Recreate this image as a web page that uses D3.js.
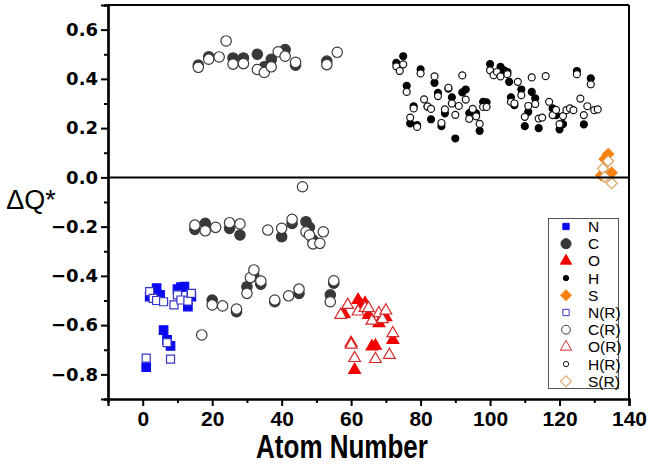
<!DOCTYPE html>
<html>
<head>
<meta charset="utf-8">
<script src="https://cdn.jsdelivr.net/npm/d3@7"></script>
<style>
  body { margin: 0; background: #fff; }
  svg { display: block; }
</style>
</head>
<body>
<div id="chart"></div>
<script>
// [atom number, dQ*]
var nFilled = [[1,-0.771],[2,-0.484],[4,-0.45],[5,-0.477],[6,-0.62],[7,-0.66],[8,-0.684],[10,-0.454],[11,-0.446],[12,-0.444],[13,-0.525],[14,-0.484]];
var cFilled = [[16,0.456],[19,0.49],[26,0.485],[29,0.485],[33,0.5],[35,0.449],[37,0.479],[41,0.519],[44,0.456],[53,0.472],
  [15,-0.211],[18,-0.187],[25,-0.207],[28,-0.234],[40,-0.241],[43,-0.187],[47,-0.18],[48,-0.203],[49,-0.254],
  [20,-0.498],[27,-0.545],[30,-0.444],[32,-0.399],[34,-0.434],[38,-0.505],[45,-0.471],[54,-0.477],[55,-0.43]];
var oFilled = [[58,-0.555],[60,-0.673],[61,-0.782],[62,-0.498],[63,-0.52],[64,-0.511],[65,-0.559],[66,-0.687],[67,-0.684],[68,-0.592],[70,-0.568],[72,-0.66]];
var hFilled = [[73,0.465],[75,0.492],[76,0.372],[77,0.219],[78,0.289],[79,0.212],[80,0.439],[82,0.287],[83,0.236],[84,0.384],[85,0.343],[86,0.208],[87,0.26],[88,0.36],[89,0.325],[90,0.158],
  [92,0.345],[93,0.357],[94,0.261],[96,0.26],[97,0.189],[98,0.307],[99,0.305],[100,0.46],[103,0.449],[104,0.435],[105,0.428],[105.5,0.388],[106,0.325],[107,0.293],
  [109,0.357],[110,0.208],[111,0.266],[112,0.347],[113,0.321],[114,0.2],[118,0.28],[119,0.253],[120,0.195],[121,0.216],[125,0.432],[127,0.215],[129,0.402]];
var sFilled = [[132,0.009],[133,0.075],[134,0.095],[135,0.019]];

var nOpen = [[1,-0.734],[2,-0.464],[3,-0.491],[4,-0.5],[6,-0.505],[7,-0.671],[8,-0.738],[9,-0.518],[10,-0.477],[11,-0.498],[13,-0.502],[14,-0.471]];
var cOpen = [[16,0.447],[19,0.48],[22,0.489],[24,0.554],[26,0.46],[29,0.462],[33,0.438],[35,0.426],[37,0.449],[39,0.51],[41,0.492],[44,0.467],[53,0.458],[56,0.508],
  [15,-0.194],[18,-0.217],[21,-0.203],[25,-0.184],[28,-0.189],[36,-0.214],[40,-0.207],[43,-0.17],[46,-0.038],[47,-0.221],[48,-0.234],[49,-0.27],[51,-0.268],[52,-0.221],
  [17,-0.64],[20,-0.518],[23,-0.522],[27,-0.535],[30,-0.471],[31,-0.407],[32,-0.376],[34,-0.421],[38,-0.498],[42,-0.481],[45,-0.454],[54,-0.505],[55,-0.42]];
var oOpen = [[57,-0.559],[59,-0.518],[60,-0.68],[61,-0.734],[62,-0.545],[64,-0.53],[65,-0.531],[66,-0.582],[67,-0.738],[68,-0.552],[69,-0.576],[70,-0.541],[71,-0.721],[72,-0.633]];
var hOpen = [[73,0.451],[74,0.432],[75,0.459],[76,0.347],[77,0.243],[78,0.28],[79,0.205],[80,0.422],[81,0.317],[82,0.288],[83,0.278],[84,0.41],[85,0.33],[86,0.221],[87,0.276],[88,0.364],
  [89,0.3],[90,0.254],[91,0.29],[92,0.414],[93,0.316],[94,0.238],[95,0.278],[96,0.248],[97,0.217],[98,0.286],[99,0.286],[100,0.435],[101,0.415],[102,0.428],[103,0.41],[105,0.419],
  [106,0.307],[107,0.3],[108,0.388],[109,0.334],[110,0.246],[111,0.29],[112,0.406],[113,0.298],[114,0.239],[115,0.243],[116,0.411],[117,0.307],[118,0.253],[119,0.274],
  [120,0.216],[121,0.249],[122,0.273],[123,0.28],[124,0.273],[125,0.419],[126,0.32],[127,0.253],[128,0.289],[129,0.378],[130,0.273],[131,0.276]];
var sOpen = [[132.5,0.036],[133,0.002],[134,0.066],[135,-0.024]];

var xTicks = [0, 20, 40, 60, 80, 100, 120, 140];
var yTicks = [-0.8, -0.6, -0.4, -0.2, 0.0, 0.2, 0.4, 0.6];

var width = 653, height = 468;
var margin = { top: 5, right: 24, bottom: 69, left: 108 };

var svg = d3.select("#chart").append("svg")
  .attr("width", width)
  .attr("height", height);

var x = d3.scaleLinear().domain([-10, 140]).range([margin.left, width - margin.right]);
var y = d3.scaleLinear().domain([-0.9, 0.7]).range([height - margin.bottom, margin.top]);

// series definitions: symbol type, size, fill, stroke
var series = [
  { name: "N", data: nFilled, type: d3.symbolSquare, size: 72, fill: "#0a0af0", stroke: "#0a0af0", rot: 0 },
  { name: "C", data: cFilled, type: d3.symbolCircle, size: 85, fill: "#383838", stroke: "#383838", rot: 0 },
  { name: "O", data: oFilled, type: d3.symbolTriangle, size: 60, fill: "#f20000", stroke: "#f20000", rot: 0 },
  { name: "H", data: hFilled, type: d3.symbolCircle, size: 38, fill: "#000", stroke: "#000", rot: 0 },
  { name: "S", data: sFilled, type: d3.symbolSquare, size: 60, fill: "#f5820f", stroke: "#f5820f", rot: 45 },
  { name: "N(R)", data: nOpen, type: d3.symbolSquare, size: 64, fill: "#fff", stroke: "#3434c8", rot: 0 },
  { name: "C(R)", data: cOpen, type: d3.symbolCircle, size: 85, fill: "#fff", stroke: "#3a3a3a", rot: 0 },
  { name: "O(R)", data: oOpen, type: d3.symbolTriangle, size: 60, fill: "#fff", stroke: "#d42a2a", rot: 0 },
  { name: "H(R)", data: hOpen, type: d3.symbolCircle, size: 38, fill: "#fff", stroke: "#111", rot: 0 },
  { name: "S(R)", data: sOpen, type: d3.symbolSquare, size: 60, fill: "#fff", stroke: "#dca05a", rot: 45 }
];

var plot = svg.append("g");

series.forEach(function(s) {
  plot.append("g")
    .selectAll("path")
    .data(s.data)
    .enter()
    .append("path")
    .attr("d", d3.symbol().type(s.type).size(s.size))
    .attr("transform", function(d) {
      return "translate(" + x(d[0]) + "," + y(d[1]) + ") rotate(" + s.rot + ")";
    })
    .attr("fill", s.fill)
    .attr("stroke", s.stroke)
    .attr("stroke-width", 1.2);
});

// frame: top and right
svg.append("line")
  .attr("x1", margin.left).attr("x2", width - margin.right)
  .attr("y1", margin.top).attr("y2", margin.top)
  .attr("stroke", "#000").attr("stroke-width", 2);
svg.append("line")
  .attr("x1", width - margin.right).attr("x2", width - margin.right)
  .attr("y1", margin.top).attr("y2", height - margin.bottom)
  .attr("stroke", "#000").attr("stroke-width", 2);

// zero line
svg.append("line")
  .attr("x1", margin.left).attr("x2", width - margin.right)
  .attr("y1", y(0)).attr("y2", y(0))
  .attr("stroke", "#000").attr("stroke-width", 2);

// axes
var xAxis = d3.axisBottom(x).tickValues(xTicks).tickFormat(d3.format("d")).tickSize(7).tickPadding(5);
var xMinor = d3.axisBottom(x).tickValues(d3.range(-10, 141, 20)).tickFormat("").tickSize(4);
var yAxis = d3.axisLeft(y).tickValues(yTicks).tickFormat(d3.format(".1f")).tickSize(7).tickPadding(3);
var yMinor = d3.axisLeft(y).tickValues([-0.9, -0.7, -0.5, -0.3, -0.1, 0.1, 0.3, 0.5, 0.7]).tickFormat("").tickSize(4);

function styleAxis(g) {
  g.select(".domain").attr("stroke-width", 2.2);
  g.selectAll(".tick line").attr("stroke-width", 2);
  g.selectAll("text")
    .attr("font-weight", "bold")
    .attr("fill", "#000");
}

svg.append("g").attr("transform", "translate(0," + (height - margin.bottom) + ")").call(xMinor).call(styleAxis);
svg.append("g").attr("transform", "translate(0," + (height - margin.bottom) + ")").call(xAxis).call(styleAxis)
  .selectAll("text").attr("font-family", "Liberation Sans").attr("font-size", 21);
svg.append("g").attr("transform", "translate(" + margin.left + ",0)").call(yMinor).call(styleAxis);
svg.append("g").attr("transform", "translate(" + margin.left + ",0)").call(yAxis).call(styleAxis)
  .selectAll("text").attr("font-family", "DejaVu Sans").attr("font-size", 18);

// axis titles
svg.append("text")
  .attr("transform", "translate(342,458) scale(1,1.28)")
  .attr("text-anchor", "middle")
  .attr("font-family", "Liberation Sans")
  .attr("font-weight", "bold")
  .attr("font-size", 26)
  .text("Atom Number");

svg.append("text")
  .attr("x", 31).attr("y", 209)
  .attr("text-anchor", "middle")
  .attr("font-family", "Liberation Sans")
  .attr("font-size", 27)
  .text("ΔQ*");

// legend
var legend = svg.append("g");
legend.append("rect")
  .attr("x", 548.5).attr("y", 218.5)
  .attr("width", 70).attr("height", 170)
  .attr("fill", "#fff")
  .attr("stroke", "#555")
  .attr("stroke-width", 1);

var legendSize = { "N": 40, "C": 80, "O": 55, "H": 22, "S": 55, "N(R)": 40, "C(R)": 60, "O(R)": 55, "H(R)": 22, "S(R)": 60 };

var item = legend.selectAll(".item")
  .data(series)
  .enter()
  .append("g")
  .attr("class", "item")
  .attr("transform", function(d, i) { return "translate(0," + (226.5 + i * 17.2) + ")"; });

item.append("path")
  .attr("d", function(d) { return d3.symbol().type(d.type).size(legendSize[d.name])(); })
  .attr("transform", function(d) { return "translate(566,0) rotate(" + d.rot + ")"; })
  .attr("fill", function(d) { return d.fill; })
  .attr("stroke", function(d) { return d.fill === "#fff" ? d.stroke : d.fill; })
  .attr("stroke-width", 1);

item.append("text")
  .attr("x", 588)
  .attr("y", 5.5)
  .attr("font-family", "Liberation Sans")
  .attr("font-size", 15.5)
  .text(function(d) { return d.name; });
</script>
</body>
</html>
